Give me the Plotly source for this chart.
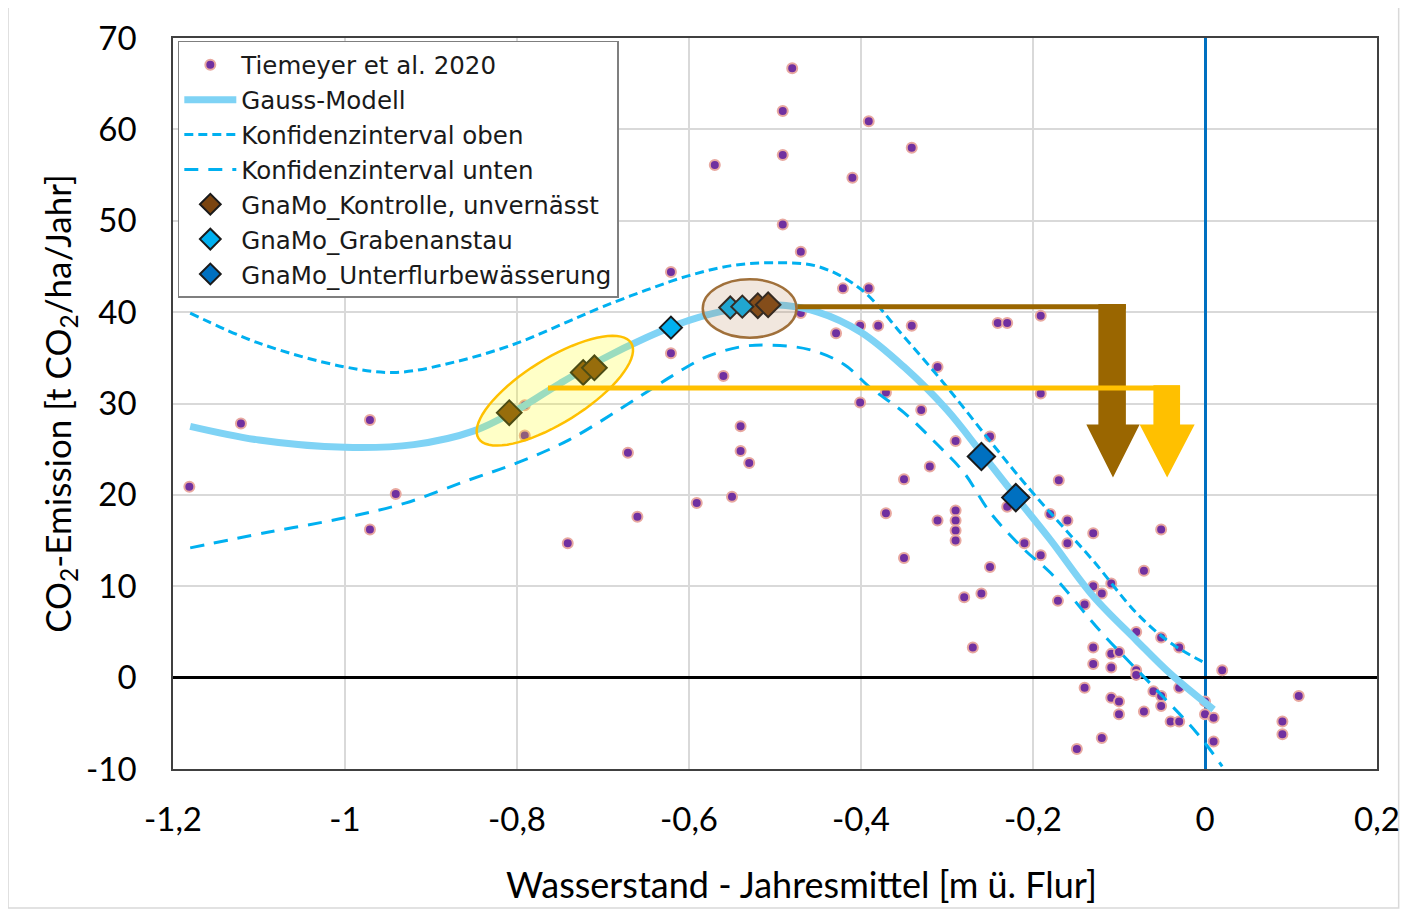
import numpy as np
import plotly.graph_objects as go

# ---------------- data ----------------
tiem_x = [-1.181, -1.121, -0.971, -0.971, -0.941, -0.791, -0.791, -0.741, -0.671, -0.660,
          -0.480, -0.491, -0.391, -0.341, -0.491, -0.570, -0.410, -0.491, -0.470, -0.621,
          -0.421, -0.391, -0.470, -0.401, -0.380, -0.341, -0.429, -0.621, -0.560, -0.401,
          -0.371, -0.330, -0.311, -0.540, -0.540, -0.530, -0.550, -0.591, -0.350, -0.320,
          -0.371, -0.311, -0.241, -0.230, -0.191, -0.191, -0.250, -0.290, -0.170, -0.290,
          -0.290, -0.290, -0.290, -0.230, -0.180, -0.160, -0.130, -0.160, -0.210, -0.191,
          -0.350, -0.051, -0.071, -0.130, -0.109, -0.120, -0.171, -0.140, -0.080, -0.051,
          -0.030, -0.130, -0.109, -0.100, -0.130, -0.109, -0.080, -0.080, 0.020, -0.140,
          -0.030, -0.060, -0.051, -0.109, -0.100, -0.051, -0.100, -0.071, -0.040, -0.030,
          0.000, 0.000, 0.010, 0.010, -0.120, -0.149, 0.109, 0.090, 0.090, -0.250,
          -0.280, -0.260, -0.270]
tiem_y = [20.9, 27.8, 28.2, 16.2, 20.1, 29.8, 26.5, 14.7, 24.6, 17.6,
          66.7, 62.0, 60.9, 58.0, 57.2, 56.1, 54.7, 49.6, 46.6, 44.4,
          42.6, 42.6, 39.9, 38.5, 38.5, 38.5, 37.7, 35.5, 33.0, 30.1,
          31.2, 29.3, 34.0, 27.5, 24.8, 23.5, 19.8, 19.1, 21.7, 23.1,
          18.0, 17.2, 38.8, 38.8, 39.6, 31.1, 26.4, 25.9, 21.6, 18.3,
          17.2, 16.1, 15.0, 18.7, 17.9, 17.2, 15.8, 14.7, 14.7, 13.4,
          13.1, 16.2, 11.7, 10.0, 10.3, 9.2, 8.4, 8.0, 5.0, 4.4,
          3.3, 3.3, 2.6, 2.8, 1.5, 1.1, 0.8, 0.3, 0.8, -1.1,
          -1.1, -1.5, -2.0, -2.2, -2.6, -3.1, -4.0, -3.7, -4.8, -4.8,
          -2.6, -4.0, -4.4, -7.0, -6.6, -7.8, -2.0, -4.8, -6.2, 12.1,
          8.8, 9.2, 3.3]

gauss_x = [-1.18, -1.10, -1.00, -0.92, -0.85, -0.80, -0.75, -0.70, -0.65, -0.60, -0.55,
           -0.50, -0.45, -0.40, -0.35, -0.30, -0.26, -0.22, -0.18, -0.13, -0.08, -0.04, 0.01]
gauss_y = [27.5, 26.0, 25.2, 25.5, 27.0, 29.3, 32.2, 34.9, 37.2, 39.1, 40.3,
           40.8, 40.0, 37.8, 34.0, 29.3, 24.6, 19.8, 15.1, 8.9, 4.1, 0.4, -3.5]

upper_x = [-1.18, -1.10, -1.00, -0.94, -0.87, -0.80, -0.74, -0.70, -0.65, -0.60, -0.55,
           -0.50, -0.45, -0.40, -0.35, -0.30, -0.25, -0.21, -0.17, -0.13, -0.08, -0.04, 0.00]
upper_y = [39.9, 36.6, 34.0, 33.4, 34.6, 36.6, 39.0, 40.6, 42.4, 44.0, 45.1,
           45.4, 45.0, 42.5, 37.3, 31.8, 25.9, 21.3, 17.0, 12.8, 7.1, 3.8, 1.6]

lower_x = [-1.18, -1.09, -1.00, -0.93, -0.86, -0.80, -0.74, -0.66, -0.62, -0.58, -0.54,
           -0.51, -0.46, -0.42, -0.39, -0.35, -0.31, -0.28, -0.25, -0.21, -0.18, -0.12,
           -0.06, -0.01, 0.02]
lower_y = [14.2, 15.9, 17.5, 19.1, 21.5, 23.5, 26.0, 30.6, 33.0, 35.1, 36.2,
           36.4, 35.9, 34.3, 31.8, 29.0, 25.4, 22.4, 18.1, 14.0, 11.5, 4.9,
           -1.0, -6.0, -9.7]

kontrolle_x = [-0.809, -0.723, -0.710, -0.520, -0.508]
kontrolle_y = [29.0, 33.4, 33.9, 40.7, 40.8]
graben_x = [-0.621, -0.552, -0.538]
graben_y = [38.3, 40.5, 40.6]
unterflur_x = [-0.260, -0.220]
unterflur_y = [24.2, 19.7]

x_ticks = [-1.2, -1.0, -0.8, -0.6, -0.4, -0.2, 0.0, 0.2]
x_ticktext = ["-1,2", "-1", "-0,8", "-0,6", "-0,4", "-0,2", "0", "0,2"]
y_ticks = [-10, 0, 10, 20, 30, 40, 50, 60, 70]
y_ticktext = ["-10", "0", "10", "20", "30", "40", "50", "60", "70"]
x_title = "Wasserstand - Jahresmittel [m ü. Flur]"
y_title = "CO<sub>2</sub>-Emission [t CO<sub>2</sub>/ha/Jahr]"

FONT = "Lato"
LEGEND_FONT = "DejaVu Sans"

fig = go.Figure()
fig.add_trace(go.Scatter(x=tiem_x, y=tiem_y, mode="markers", name="Tiemeyer et al. 2020",
                         marker=dict(color="#7030A0", size=10,
                                     line=dict(color="#E8A8A0", width=2))))
fig.add_trace(go.Scatter(x=gauss_x, y=gauss_y, mode="lines", name="Gauss-Modell",
                         line=dict(color="#7FD3F5", width=7, shape="spline")))
fig.add_trace(go.Scatter(x=upper_x, y=upper_y, mode="lines", name="Konfidenzinterval oben",
                         line=dict(color="#00B0F0", width=3, dash="9px,5px", shape="spline")))
fig.add_trace(go.Scatter(x=lower_x, y=lower_y, mode="lines", name="Konfidenzinterval unten",
                         line=dict(color="#00B0F0", width=3, dash="14px,10px", shape="spline")))
fig.add_trace(go.Scatter(x=kontrolle_x, y=kontrolle_y, mode="markers",
                         name="GnaMo_Kontrolle, unvernässt",
                         marker=dict(symbol="diamond", color="#7A4410", size=19,
                                     line=dict(color="#1a1a1a", width=2))))
fig.add_trace(go.Scatter(x=graben_x, y=graben_y, mode="markers", name="GnaMo_Grabenanstau",
                         marker=dict(symbol="diamond", color="#00B0F0", size=17,
                                     line=dict(color="#1a1a1a", width=2))))
fig.add_trace(go.Scatter(x=unterflur_x, y=unterflur_y, mode="markers",
                         name="GnaMo_Unterflurbewässerung",
                         marker=dict(symbol="diamond", color="#0070C0", size=21,
                                     line=dict(color="#1a1a1a", width=2))))

# ---------------- annotation shapes ----------------
PX_X = 860.0   # pixels per x unit (for round ellipse in screen space)
PX_Y = 9.14    # pixels per y unit
shapes = []

# yellow rotated ellipse
cx, cy, a, b, th = -0.756, 31.4, 90, 32, np.deg2rad(32)
t = np.linspace(0, 2 * np.pi, 73)
ex = cx + (a * np.cos(th) * np.cos(t) - b * np.sin(th) * np.sin(t)) / PX_X
ey = cy + (a * np.sin(th) * np.cos(t) + b * np.cos(th) * np.sin(t)) / PX_Y
path = "M " + " L ".join(f"{x:.5f},{y:.4f}" for x, y in zip(ex, ey)) + " Z"
shapes.append(dict(type="path", xref="x", yref="y", path=path,
                   fillcolor="rgba(255,255,0,0.22)", line=dict(color="#FFC000", width=2.5)))

# brown ellipse
shapes.append(dict(type="circle", xref="x", yref="y", x0=-0.584, x1=-0.475, y0=37.2, y1=43.6,
                   fillcolor="rgba(175,120,70,0.18)", line=dict(color="#A0703A", width=2.5)))

BROWN = "#9A6600"
YELLOW = "#FFC000"
# brown arrow: horizontal line + shaft + head
shapes.append(dict(type="line", xref="x", yref="y", x0=-0.474, x1=-0.092, y0=40.6, y1=40.6,
                   line=dict(color=BROWN, width=5)))
shapes.append(dict(type="path", xref="x", yref="y",
                   path="M -0.124,40.9 L -0.092,40.9 L -0.092,27.7 L -0.076,27.7 L -0.107,21.9 "
                        "L -0.138,27.7 L -0.124,27.7 Z",
                   fillcolor=BROWN, line=dict(width=0)))
# yellow arrow
shapes.append(dict(type="line", xref="x", yref="y", x0=-0.764, x1=-0.029, y0=31.7, y1=31.7,
                   line=dict(color=YELLOW, width=5)))
shapes.append(dict(type="path", xref="x", yref="y",
                   path="M -0.060,32.0 L -0.029,32.0 L -0.029,27.7 L -0.012,27.7 L -0.044,21.9 "
                        "L -0.076,27.7 L -0.060,27.7 Z",
                   fillcolor=YELLOW, line=dict(width=0)))
# outer light border of figure
shapes.append(dict(type="rect", xref="paper", yref="paper", x0=-0.137, x1=1.018, y0=-0.19,
                   y1=1.045, line=dict(color="#D9D9D9", width=1.5), layer="below"))

fig.update_layout(
    width=1401, height=907,
    margin=dict(l=165, r=32, t=30, b=146),
    paper_bgcolor="white", plot_bgcolor="white",
    font=dict(family=FONT, size=33, color="black"),
    shapes=shapes,
    showlegend=True,
    legend=dict(x=0.004, y=0.996, xanchor="left", yanchor="top",
                bgcolor="white", bordercolor="#7F7F7F", borderwidth=1.5,
                font=dict(family=LEGEND_FONT, size=24.5, color="#1a1a1a"),
                itemwidth=52, tracegroupgap=0),
    annotations=[dict(text=x_title, xref="paper", yref="paper", x=0.5216, y=-0.157,
                      xanchor="center", yanchor="middle", showarrow=False,
                      font=dict(family=FONT, size=36, color="black"))],
    xaxis=dict(range=[-1.2, 0.2], tickvals=x_ticks, ticktext=x_ticktext,
               showgrid=True, gridcolor="#D9D9D9", gridwidth=1.5,
               zeroline=True, zerolinecolor="#0070C0", zerolinewidth=3,
               showline=True, mirror=True, linecolor="#404040", linewidth=1.5,
               ticks="", ticklabelstandoff=21, automargin=False),
    yaxis=dict(range=[-10, 70], tickvals=y_ticks, ticktext=y_ticktext,
               showgrid=True, gridcolor="#D9D9D9", gridwidth=1.5,
               zeroline=True, zerolinecolor="black", zerolinewidth=2.5,
               showline=True, mirror=True, linecolor="#404040", linewidth=1.5,
               ticks="", ticklabelstandoff=28,
               title=dict(text=y_title, standoff=4, font=dict(size=35)),
               automargin=False),
)

fig.write_html("out.html")
